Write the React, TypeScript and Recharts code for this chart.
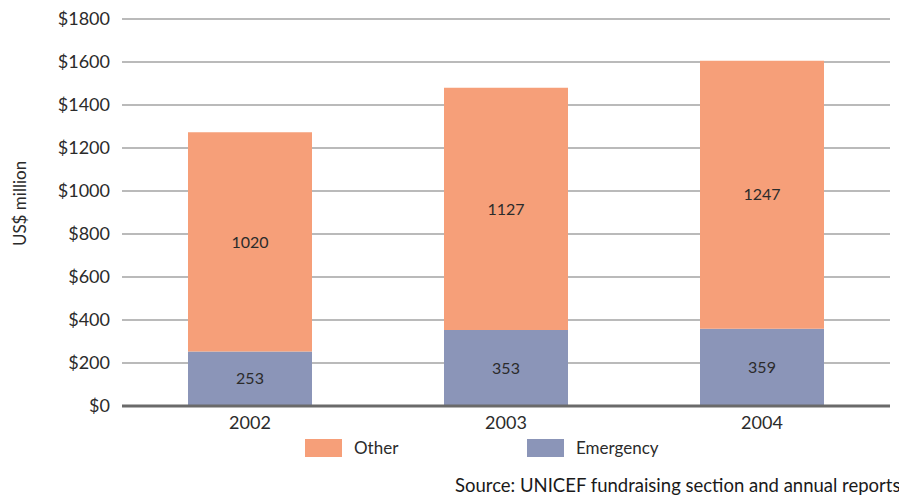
import React from 'react';
import { BarChart, Bar, XAxis, YAxis, CartesianGrid, ReferenceLine, LabelList } from 'recharts';

const years = ['2002', '2003', '2004'];
const emergency = [253, 353, 359];
const other = [1020, 1127, 1247];
const yTicks = [0, 200, 400, 600, 800, 1000, 1200, 1400, 1600, 1800];

const data = years.map((year, i) => ({ year, emergency: emergency[i], other: other[i] }));

const FONT = 'Lato, "Open Sans", sans-serif';
const ORANGE = '#f69f79';
const BLUE = '#8b95b8';

const App: React.FC = () => {
  return (
    <div style={{ position: 'absolute', left: 0, top: 0, width: 899, height: 496, background: '#fff', fontFamily: FONT, overflow: 'hidden' }}>
      <BarChart
        width={899}
        height={496}
        data={data}
        margin={{ top: 19, right: 9, left: 0, bottom: 50 }}
        barSize={124}
      >
        <CartesianGrid vertical={false} stroke="#a3a3a3" strokeWidth={1.5} />
        <XAxis
          dataKey="year"
          axisLine={false}
          tickLine={false}
          tickSize={6}
          tickMargin={4}
          height={40}
          tick={{ fill: '#2b2b2b', fontSize: 18, fontFamily: FONT }}
        />
        <YAxis
          width={122}
          domain={[0, 1800]}
          ticks={yTicks}
          interval={0}
          axisLine={false}
          tickLine={false}
          tickSize={6}
          tickMargin={6}
          tickFormatter={(v: number) => `$${v}`}
          tick={{ fill: '#2b2b2b', fontSize: 18, fontFamily: FONT }}
          label={{
            value: 'US$ million',
            angle: -90,
            position: 'insideLeft',
            offset: 20,
            dy: -9,
            style: { fill: '#2b2b2b', fontSize: 17, fontFamily: FONT, textAnchor: 'middle' },
          }}
        />
        <Bar dataKey="emergency" stackId="a" fill={BLUE} isAnimationActive={false}>
          <LabelList dataKey="emergency" position="center" style={{ fill: '#2b2b2b', fontSize: 16, fontFamily: FONT }} />
        </Bar>
        <Bar dataKey="other" stackId="a" fill={ORANGE} isAnimationActive={false}>
          <LabelList dataKey="other" position="center" style={{ fill: '#2b2b2b', fontSize: 16, fontFamily: FONT }} />
        </Bar>
        <ReferenceLine y={0} stroke="#6a6a6a" strokeWidth={3} />
      </BarChart>
      <div style={{ position: 'absolute', left: 305, top: 439, width: 37, height: 18, background: ORANGE }} />
      <div style={{ position: 'absolute', left: 354, top: 437, fontSize: 17, color: '#2b2b2b', lineHeight: '22px' }}>Other</div>
      <div style={{ position: 'absolute', left: 527, top: 439, width: 37, height: 18, background: BLUE }} />
      <div style={{ position: 'absolute', left: 576, top: 437, fontSize: 17, color: '#2b2b2b', lineHeight: '22px' }}>Emergency</div>
      <div style={{ position: 'absolute', left: 455, top: 474, fontSize: 18.5, color: '#1a1a1a', lineHeight: '22px', whiteSpace: 'nowrap' }}>
        Source: UNICEF fundraising section and annual reports
      </div>
    </div>
  );
};

export default App;
